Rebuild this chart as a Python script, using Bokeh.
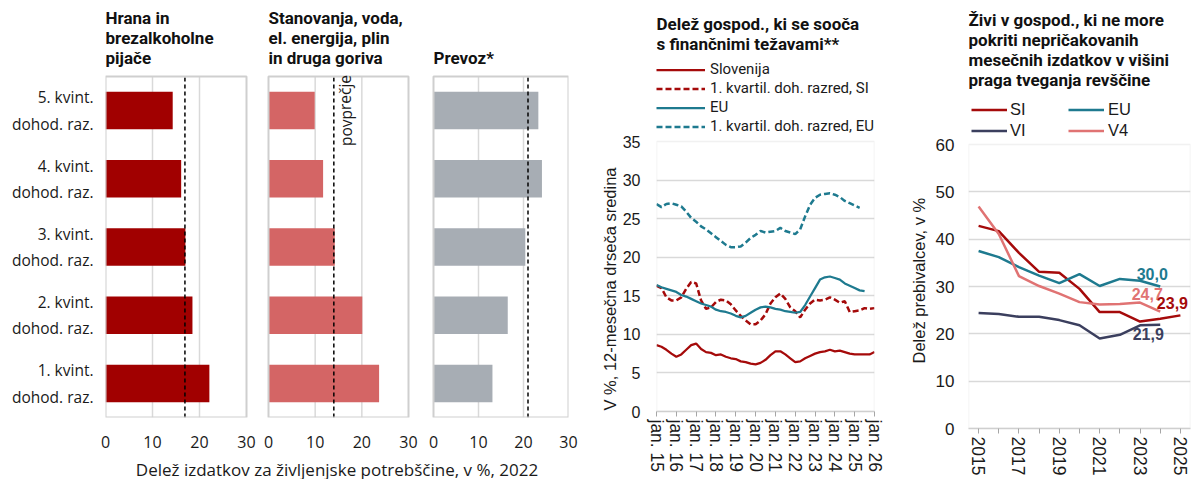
from bokeh.plotting import figure
from bokeh.models import Range1d, Label, Legend, LegendItem, FixedTicker, BoxAnnotation, Title
from bokeh.layouts import row
from bokeh.embed import file_html
from bokeh.resources import INLINE
from bokeh.core.properties import value

# ---------------- data: spending shares by income quintile, 2022 ----------------
quintiles = [1, 2, 3, 4, 5]
quintile_labels = ["1. kvint.\ndohod. raz.", "2. kvint.\ndohod. raz.", "3. kvint.\ndohod. raz.",
                   "4. kvint.\ndohod. raz.", "5. kvint.\ndohod. raz."]
food_share = [22.1, 18.5, 17.0, 16.1, 14.3]
housing_share = [23.7, 20.1, 14.2, 11.7, 9.9]
transport_share = [13.1, 16.5, 20.4, 24.1, 23.3]
food_avg = 16.9
housing_avg = 14.0
transport_avg = 21.0
share_ticks = [0, 10, 20, 30]
share_grid = [10, 20]
food_title = ["Hrana in", "brezalkoholne", "pijače"]
housing_title = ["Stanovanja, voda,", "el. energija, plin", "in druga goriva"]
transport_title = ["Prevoz*"]
share_axis_title = "Delež izdatkov za življenjske potrebščine, v %, 2022"
avg_label = "povprečje"

# ---------------- data: households facing financial difficulties ----------------
# x = months since January 2015 (quarterly readings), 12-month moving average, %
month_ticks = [0, 12, 24, 36, 48, 60, 72, 84, 96, 108, 120, 132]
month_tick_labels = ["jan. 15", "jan. 16", "jan. 17", "jan. 18", "jan. 19", "jan. 20",
                     "jan. 21", "jan. 22", "jan. 23", "jan. 24", "jan. 25", "jan. 26"]
months_si = [0, 3, 6, 9, 12, 15, 18, 21, 24, 27, 30, 33, 36, 39, 42, 45, 48, 51, 54, 57, 60,
             63, 66, 69, 72, 75, 78, 81, 84, 87, 90, 93, 96, 99, 102, 105, 108, 111, 114,
             117, 120, 123, 126, 129, 132]
slovenia = [8.6, 8.4, 8.0, 7.5, 7.1, 7.4, 8.0, 8.6, 8.8, 8.1, 7.7, 7.6,
            7.3, 7.4, 7.1, 6.9, 6.8, 6.5, 6.4, 6.2, 6.1, 6.3, 6.7,
            7.3, 7.8, 7.8, 7.4, 6.9, 6.4, 6.5, 6.9, 7.2, 7.5, 7.7,
            7.8, 8.0, 7.8, 7.9, 7.7, 7.5, 7.4, 7.4, 7.4, 7.4, 7.7]
slovenia_q1 = [16.3, 16.0, 14.8, 14.4, 14.4, 14.8, 15.9, 16.8, 16.6, 14.4, 13.3, 13.5,
               14.2, 14.5, 14.4, 13.9, 13.1, 12.4, 11.8, 11.3, 11.3, 11.8, 12.6,
               14.0, 14.8, 15.3, 14.6, 13.5, 13.0, 12.2, 13.2, 14.0, 14.5, 14.4,
               14.5, 14.8, 14.5, 14.1, 14.3, 12.9, 13.0, 13.1, 13.4, 13.3, 13.4]
months_eu = [0, 3, 6, 9, 12, 15, 18, 21, 24, 27, 30, 33, 36, 39, 42, 45, 48, 51, 54, 57, 60,
             63, 66, 69, 72, 75, 78, 81, 84, 87, 90, 93, 96, 99, 102, 105, 108, 111, 114,
             117, 120, 123, 126]
eu = [16.4, 16.1, 15.9, 15.7, 15.5, 15.1, 14.9, 14.6, 14.3, 14.0, 13.8, 13.6,
      13.2, 13.0, 12.9, 12.7, 12.4, 12.2, 12.4, 12.8, 13.2, 13.5, 13.6,
      13.5, 13.3, 13.2, 13.0, 12.9, 12.8, 12.9, 13.8, 14.9, 16.0, 17.1,
      17.4, 17.5, 17.3, 17.1, 16.6, 16.3, 16.0, 15.7, 15.6]
months_eu_q1 = [0, 3, 6, 9, 12, 15, 18, 21, 24, 27, 30, 33, 36, 39, 42, 45, 48, 51, 54, 57, 60,
                63, 66, 69, 72, 75, 78, 81, 84, 87, 90, 93, 96, 99, 102, 105, 108, 111, 114,
                117, 120, 123]
eu_q1 = [26.9, 26.5, 26.9, 27.0, 26.8, 26.6, 25.9, 25.1, 24.6, 24.0, 23.6, 23.1,
         22.6, 22.1, 21.6, 21.3, 21.3, 21.4, 21.9, 22.5, 22.9, 23.4, 23.2,
         23.3, 23.4, 23.8, 23.4, 23.2, 23.0, 23.6, 25.3, 26.8, 27.7, 28.1,
         28.2, 28.3, 28.1, 27.8, 27.3, 27.0, 26.7, 26.4]
fin_ticks = [0, 5, 10, 15, 20, 25, 30, 35]
fin_grid = [5, 10, 15, 20, 25, 30]
fin_title = ["Delež gospod., ki se sooča", "s finančnimi težavami**"]
fin_legend = ["Slovenija", "1. kvartil. doh. razred, SI", "EU", "1. kvartil. doh. razred, EU"]
fin_axis_title = "V %, 12-mesečna drseča sredina"

# ---------------- data: unable to face unexpected expenses ----------------
years_si = [2015, 2016, 2017, 2018, 2019, 2020, 2021, 2022, 2023, 2024, 2025]
years_other = [2015, 2016, 2017, 2018, 2019, 2020, 2021, 2022, 2023, 2024]
unexp_si = [42.8, 41.7, 37.1, 33.1, 32.9, 29.5, 24.6, 24.6, 22.6, 23.2, 23.9]
unexp_eu = [37.5, 36.2, 34.1, 32.3, 30.7, 32.6, 30.1, 31.6, 31.2, 30.0]
unexp_vi = [24.4, 24.2, 23.6, 23.6, 22.9, 21.8, 19.0, 19.8, 21.8, 21.9]
unexp_v4 = [46.9, 41.1, 32.2, 30.1, 28.5, 26.7, 26.2, 26.3, 26.6, 24.7]
unexp_ticks = [0, 10, 20, 30, 40, 50, 60]
unexp_grid = [10, 20, 30, 40, 50]
year_ticks = [2015, 2016, 2017, 2018, 2019, 2020, 2021, 2022, 2023, 2024, 2025]
year_labels = ["2015", "", "2017", "", "2019", "", "2021", "", "2023", "", "2025"]
unexp_title = ["Živi v gospod., ki ne more", "pokriti nepričakovanih",
               "mesečnih izdatkov v višini", "praga tveganja revščine"]
unexp_axis_title = "Delež  prebivalcev, v %"

# ---------------- styling / layout (canvas pixels) ----------------
FONT = "Roboto"
RFONT = "Open Sans"
AFONT = "Liberation Sans"
TXT = "#1a1a1a"
GRID = "#D9D9D9"
FRAME = "#CFCFCF"
RED_DARK = "#A10000"
RED_MID = "#D46565"
GREY = "#A7ADB4"
C_SI = "#A50A0A"
C_EU = "#1E7A8F"
C_VI = "#3B3F5E"
C_V4 = "#E07373"
H = 478          # canvas height of every figure
FRAME_TOP = 10   # every frame starts at the same height
LABEL_SHIFT = 7  # labels in screen units render slightly low; compensate


def add_title(p, lines, frame_bottom, baselines, x=0, size="17px"):
    for t, b in zip(lines, baselines):
        p.add_layout(Label(x=x, y=frame_bottom - b + LABEL_SHIFT, x_units="screen", y_units="screen",
                           text=t, text_font=FONT, text_font_style="bold", text_font_size=size,
                           text_color="#111111", text_align="left", text_baseline="alphabetic"))


def new_fig(fw, box_top, box_bottom, left, right, x_range, y0, y1):
    fh = box_bottom - FRAME_TOP
    y_top = y1 + (y1 - y0) * (box_top - FRAME_TOP) / (box_bottom - box_top)
    p = figure(frame_width=fw, frame_height=fh, x_range=x_range, y_range=Range1d(y0, y_top),
               output_backend="svg", toolbar_location=None, title=None,
               min_border_left=left, min_border_right=right, min_border_top=FRAME_TOP,
               min_border_bottom=H - FRAME_TOP - fh)
    p.outline_line_color = None
    p.xgrid.visible = False
    p.ygrid.visible = False
    return p


def side_title(p, text, offset, standoff):
    p.add_layout(Title(text=text, align="left", offset=offset, standoff=standoff,
                       text_font=AFONT, text_font_style="normal", text_font_size="16.5px",
                       text_color=TXT), "left")


# ---------------- three bar panels in one figure (one x range per panel) ----------------
BAR_TOP, BAR_BOTTOM = 76, 417
PANEL_PX = [(105, 246), (268, 408), (433, 568)]
F_LEFT, F_RIGHT = PANEL_PX[0][0], PANEL_PX[2][1]


def panel_range(l, r):
    start = -30.0 * (l - F_LEFT) / (r - l)
    return Range1d(start, start + 30.0 * (F_RIGHT - F_LEFT) / (r - l))


ranges = [panel_range(l, r) for l, r in PANEL_PX]
pb = new_fig(F_RIGHT - F_LEFT, BAR_TOP, BAR_BOTTOM, F_LEFT, 10, ranges[0], 0.5, 5.5)
pb.extra_x_ranges = {"p2": ranges[1], "p3": ranges[2]}
range_names = ["default", "p2", "p3"]
panels = [(food_share, food_avg, RED_DARK, food_title),
          (housing_share, housing_avg, RED_MID, housing_title),
          (transport_share, transport_avg, GREY, transport_title)]
tick_pos, tick_txt = [], {}
for (vals, avg, color, title), rn, (l, r) in zip(panels, range_names, PANEL_PX):
    pb.segment(x0=share_grid, x1=share_grid, y0=0.5, y1=5.5, line_color=GRID, line_width=1.5,
               x_range_name=rn)
    pb.hbar(y=quintiles, left=0, right=vals, height=0.55, fill_color=color, line_color=None,
            x_range_name=rn)
    pb.segment(x0=[avg], x1=[avg], y0=0.5, y1=5.5, line_color="black", line_dash="4 3",
               line_width=1.5, x_range_name=rn)
    pb.quad(left=[0], right=[30], bottom=[0.5], top=[5.5], fill_color=None, line_color=FRAME,
            line_width=2, x_range_name=rn)
    n = len(title)
    add_title(pb, title, BAR_BOTTOM, [64.3 - 20 * (n - 1 - i) for i in range(n)], x=l - F_LEFT)
    # x-axis ticks of this panel expressed in the shared axis' units
    for v in share_ticks:
        u = round((l + v * (r - l) / 30.0 - F_LEFT) * 30.0 / (PANEL_PX[0][1] - F_LEFT), 6)
        tick_pos.append(u)
        tick_txt[u] = str(v)

ax = pb.xaxis[0]
ax.ticker = FixedTicker(ticks=tick_pos)
ax.major_label_overrides = tick_txt
ax.axis_line_color = None
ax.major_tick_line_color = None
ax.minor_tick_line_color = None
ax.major_label_standoff = 12
ax.major_label_text_font = RFONT
ax.major_label_text_font_size = "16px"
ax.major_label_text_color = TXT
ax.axis_label = share_axis_title
ax.axis_label_text_font = RFONT
ax.axis_label_text_font_style = "normal"
ax.axis_label_text_font_size = "17px"
ax.axis_label_text_color = TXT
ax.axis_label_standoff = 7
ay = pb.yaxis[0]
ay.ticker = FixedTicker(ticks=quintiles)
ay.major_label_overrides = dict(zip(quintiles, quintile_labels))
ay.axis_line_color = None
ay.major_tick_line_color = None
ay.minor_tick_line_color = None
ay.major_label_standoff = 6
ay.major_label_text_font = RFONT
ay.major_label_text_font_size = "15.5px"
ay.major_label_text_color = TXT
ay.major_label_text_align = "right"
pb.add_layout(Label(x=345 - F_LEFT, y=BAR_BOTTOM - 117 + LABEL_SHIFT, x_units="screen",
                    y_units="screen", text=avg_label, angle=1.5708, text_font=RFONT,
                    text_font_size="15.5px", text_color=TXT, text_align="center",
                    text_baseline="middle"))

# ---------------- middle line chart ----------------
F4_TOP, F4_BOTTOM = 141, 411
p4 = new_fig(218, F4_TOP, F4_BOTTOM, 656 - 578, 14, Range1d(0, 132), 0, 35)
p4.ygrid.visible = True
p4.ygrid.ticker = FixedTicker(ticks=fin_grid)
p4.ygrid.grid_line_color = GRID
p4.ygrid.grid_line_width = 1.5
r_si = p4.line(months_si, slovenia, line_color=C_SI, line_width=2.25)
r_siq = p4.line(months_si, slovenia_q1, line_color=C_SI, line_width=2.5, line_dash="6 3")
r_eu = p4.line(months_eu, eu, line_color=C_EU, line_width=2.25)
r_euq = p4.line(months_eu_q1, eu_q1, line_color=C_EU, line_width=2.5, line_dash="6 3")
p4.add_layout(BoxAnnotation(left=0, right=132, bottom=0, top=35, fill_color=None,
                            line_color=FRAME, line_width=1.5))
ax = p4.xaxis[0]
ax.ticker = FixedTicker(ticks=month_ticks)
ax.major_label_overrides = dict(zip(month_ticks, month_tick_labels))
ax.major_label_orientation = "vertical"
ax.axis_line_color = FRAME
ax.axis_line_width = 1.5
ax.major_tick_line_color = "#A6A6A6"
ax.major_tick_in = 0
ax.major_tick_out = 5
ax.minor_tick_line_color = None
ax.major_label_standoff = 3
ax.major_label_text_font = AFONT
ax.major_label_text_font_size = "17.5px"
ax.major_label_text_color = TXT
ay = p4.yaxis[0]
ay.ticker = FixedTicker(ticks=fin_ticks)
ay.axis_line_color = None
ay.major_tick_line_color = None
ay.minor_tick_line_color = None
ay.major_label_standoff = 10
ay.major_label_text_font = AFONT
ay.major_label_text_font_size = "16px"
ay.major_label_text_color = TXT
side_title(p4, fin_axis_title, F4_BOTTOM - 410, 2)
add_title(p4, fin_title, F4_BOTTOM, [30, 50])
leg4 = Legend(items=[LegendItem(label=fin_legend[0], renderers=[r_si]),
                     LegendItem(label=fin_legend[1], renderers=[r_siq]),
                     LegendItem(label=fin_legend[2], renderers=[r_eu]),
                     LegendItem(label=fin_legend[3], renderers=[r_euq])],
              location=(0, F4_BOTTOM - 135.5), orientation="vertical",
              glyph_width=49, glyph_height=19, label_height=19, label_standoff=5,
              spacing=0, padding=0, margin=0, border_line_color=None,
              background_fill_alpha=0, label_text_font=FONT, label_text_font_size="15px",
              label_text_color=TXT)
p4.add_layout(leg4)

# ---------------- right line chart ----------------
F5_TOP, F5_BOTTOM = 144, 428
p5 = new_fig(222, F5_TOP, F5_BOTTOM, 968 - 888, 2, Range1d(2014.5, 2025.5), 0, 60)
p5.ygrid.visible = True
p5.ygrid.ticker = FixedTicker(ticks=unexp_grid)
p5.ygrid.grid_line_color = GRID
p5.ygrid.grid_line_width = 1.5
l_si = p5.line(years_si, unexp_si, line_color=C_SI, line_width=2.5)
l_eu = p5.line(years_other, unexp_eu, line_color=C_EU, line_width=2.5)
l_vi = p5.line(years_other, unexp_vi, line_color=C_VI, line_width=2.5)
l_v4 = p5.line(years_other, unexp_v4, line_color=C_V4, line_width=2.5)
p5.add_layout(BoxAnnotation(left=2014.5, right=2025.5, bottom=0, top=60, fill_color=None,
                            line_color=FRAME, line_width=1.5))
ax = p5.xaxis[0]
ax.ticker = FixedTicker(ticks=year_ticks)
ax.major_label_overrides = dict(zip(year_ticks, year_labels))
ax.major_label_orientation = "vertical"
ax.axis_line_color = FRAME
ax.axis_line_width = 1.5
ax.major_tick_line_color = "#A6A6A6"
ax.major_tick_in = 0
ax.major_tick_out = 5
ax.minor_tick_line_color = None
ax.major_label_standoff = 3
ax.major_label_text_font = AFONT
ax.major_label_text_font_size = "17.5px"
ax.major_label_text_color = TXT
ay = p5.yaxis[0]
ay.ticker = FixedTicker(ticks=unexp_ticks)
ay.axis_line_color = None
ay.major_tick_line_color = None
ay.minor_tick_line_color = None
ay.major_label_standoff = 8
ay.major_label_text_font = AFONT
ay.major_label_text_font_size = "17px"
ay.major_label_text_color = TXT
side_title(p5, unexp_axis_title, F5_BOTTOM - 363, 10)
add_title(p5, unexp_title, F5_BOTTOM, [26.7, 46.7, 66.7, 86.7])

end_x = [years_other[-1], years_other[-1], years_si[-1], years_other[-1]]
end_y = [unexp_eu[-1], unexp_v4[-1], unexp_si[-1], unexp_vi[-1]]
end_txt = [f"{v:.1f}".replace(".", ",") for v in end_y]
p5.text(x=end_x, y=end_y, text=end_txt, x_offset=[-8, -13, -8, -12], y_offset=[-13, -18, -12, 9],
        text_color=[C_EU, C_V4, C_SI, C_VI], text_font=value(AFONT), text_font_style="bold",
        text_font_size="16px", text_align="center", text_baseline="middle")

leg_style = dict(orientation="vertical", glyph_width=36, glyph_height=21, label_height=21,
                 spacing=0, padding=0, margin=0, border_line_color=None,
                 background_fill_alpha=0, label_text_font=AFONT, label_text_font_size="16.5px",
                 label_text_color=TXT)
leg5a = Legend(items=[LegendItem(label="SI", renderers=[l_si]), LegendItem(label="VI", renderers=[l_vi])],
               location=(3, F5_BOTTOM - 140.5), label_standoff=3, **leg_style)
leg5b = Legend(items=[LegendItem(label="EU", renderers=[l_eu]), LegendItem(label="V4", renderers=[l_v4])],
               location=(100, F5_BOTTOM - 140.5), label_standoff=4, **leg_style)
p5.add_layout(leg5a)
p5.add_layout(leg5b)

layout = row(pb, p4, p5, spacing=0)
open("out.html", "w").write(file_html(layout, INLINE))
